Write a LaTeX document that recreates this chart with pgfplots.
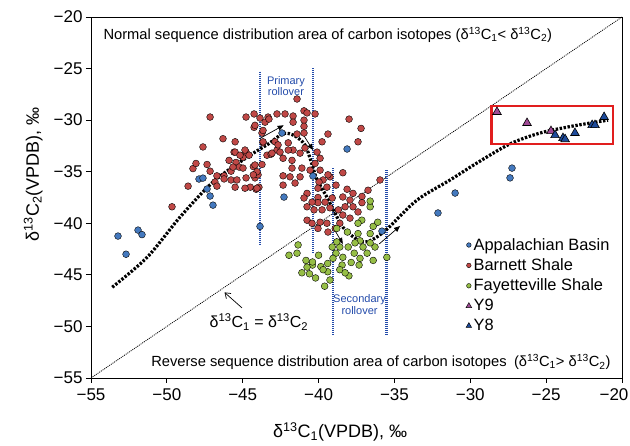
\documentclass[border=0pt]{standalone}
\usepackage{fontspec}
\setmainfont{Liberation Sans}
\usepackage{pgfplots}
\pgfplotsset{compat=1.18}
\usetikzlibrary{arrows.meta}
\definecolor{cblue}{RGB}{68,121,190}
\definecolor{cred}{RGB}{192,72,70}
\definecolor{cgreen}{RGB}{150,190,70}
\definecolor{cpurple}{RGB}{160,75,150}
\definecolor{cnavy}{RGB}{30,75,155}
\definecolor{lblue}{RGB}{35,75,170}
\definecolor{boxred}{RGB}{225,30,30}
\newcommand{\dC}[1]{δ\textsuperscript{13}C\textsubscript{#1}}
\pgfplotstableread{
x y
-49.66 -38.4
-48.6 -36.4
-48.28 -34.7
-48.08 -34.2
-47.35 -34.3
-47.15 -34.95
-47.62 -32.6
-47.15 -29.7
-46.3 -31.8
-46.7 -35.4
-46.83 -36.0
-46.7 -36.4
-46.23 -35.4
-46.23 -35.7
-45.9 -33.9
-45.77 -34.95
-45.77 -35.8
-45.57 -33.1
-45.5 -36.5
-45.44 -34.1
-45.24 -34.55
-44.98 -33.6
-44.78 -29.7
-44.78 -33.1
-44.78 -35.6
-44.58 -33.4
-44.5 -36.5
-44.3 -34.5
-44.25 -29.4
-44.25 -30.7
-44.19 -35.6
-44.12 -36.7
-43.99 -35.3
-43.93 -36.5
-43.73 -34.3
-43.73 -31.25
-43.86 -29.8
-43.53 -30.2
-43.33 -29.7
-43.66 -32.2
-43.4 -33.4
-43.13 -33.3
-42.87 -32.1
-42.74 -29.4
-42.74 -32.9
-41.42 -27.95
-43.27 -29.9
-42.21 -29.4
-41.68 -29.6
-41.68 -30.2
-40.96 -29.1
-40.76 -29.3
-40.23 -29.4
-40.96 -30.0
-40.96 -30.6
-41.42 -31.35
-40.96 -31.25
-39.38 -31.35
-39.77 -32.1
-40.1 -33.1
-39.9 -33.7
-41.22 -33.2
-40.9 -32.7
-42.0 -32.2
-41.68 -32.9
-42.0 -32.9
-42.67 -32.4
-42.54 -33.1
-42.34 -33.7
-43.07 -33.2
-43.66 -31.0
-43.66 -32.1
-44.19 -30.5
-45.5 -32.1
-44.85 -32.9
-45.5 -33.1
-45.18 -33.4
-45.64 -34.55
-44.98 -34.65
-44.19 -34.35
-44.06 -35.0
-44.3 -35.3
-45.38 -35.8
-44.85 -36.6
-44.06 -36.6
-41.75 -33.9
-41.75 -34.65
-41.88 -35.5
-42.34 -35.4
-42.34 -36.3
-41.55 -36.1
-41.22 -35.5
-41.1 -34.65
-40.56 -34.85
-40.23 -34.2
-39.9 -34.85
-39.7 -35.8
-39.25 -35.5
-40.76 -37.1
-40.04 -37.5
-37.99 -29.9
-37.2 -30.8
-37.4 -32.1
-38.4 -35.1
-39.38 -35.3
-39.97 -36.0
-40.04 -36.6
-39.45 -36.5
-38.85 -36.3
-38.12 -36.7
-37.73 -37.1
-37.14 -37.4
-37.93 -37.75
-38.4 -37.45
-39.1 -37.55
-39.57 -37.95
-40.04 -38.0
-40.43 -37.95
-40.96 -37.55
-40.76 -38.4
-40.3 -38.7
-39.77 -38.7
-39.25 -38.5
-38.7 -38.7
-38.25 -38.4
-37.73 -38.4
-37.14 -38.0
-37.4 -38.9
-38.4 -39.2
-37.93 -39.5
-40.76 -39.7
-40.43 -40.0
-39.9 -39.9
-39.45 -40.0
-39.38 -40.85
-38.6 -40.0
-38.9 -40.5
-40.04 -40.5
-35.95 -35.8
-36.74 -36.8
}\barnett
\pgfplotstableread{
x y
-41.35 -42.1
-41.95 -43.1
-41.42 -42.9
-40.83 -43.6
-41.1 -44.8
-40.6 -44.9
-40.2 -45.3
-39.6 -46.1
-40.4 -44.05
-40.0 -43.1
-39.85 -44.2
-39.4 -43.9
-39.4 -44.7
-38.85 -42.9
-38.45 -44.05
-38.4 -43.3
-38.6 -44.5
-38.05 -42.3
-37.85 -43.8
-37.65 -42.9
-37.4 -41.0
-37.27 -43.4
-37.33 -44.05
-38.0 -45.1
-37.07 -42.3
-36.8 -42.9
-36.6 -41.0
-36.4 -40.3
-36.4 -43.6
-36.28 -42.3
-36.1 -39.9
-36.6 -38.4
-38.6 -42.3
-38.8 -41.8
-38.1 -40.85
-37.27 -41.7
-37.6 -41.9
-35.5 -43.3
-39.25 -45.5
-39.7 -44.5
-40.76 -44.25
-40.4 -43.75
-39.1 -42.3
-39.05 -43.4
-38.25 -44.8
-38.8 -40.5
-37.15 -39.7
-36.6 -41.9
-37.4 -40.0
-36.6 -37.85
}\fayette
\pgfplotstableread{
x y
-53.22 -41.24
-52.69 -43.0
-51.9 -40.66
-51.64 -41.1
-47.88 -35.71
-47.62 -35.62
-47.35 -36.68
-47.15 -37.36
-46.96 -38.24
-43.86 -40.3
-42.41 -31.25
-38.12 -32.8
-40.37 -35.42
-42.28 -37.46
-35.82 -40.76
-32.13 -39.0
-31.0 -37.07
-27.38 -35.6
-27.25 -34.65
}\appal
\pgfplotstableread{
x y
-28.24 -29.21
-26.26 -30.28
-24.68 -31.06
}\yix
\pgfplotstableread{
x y
-24.41 -31.45
-23.89 -31.74
-23.75 -31.85
-23.1 -31.25
-21.97 -30.48
-21.78 -30.48
-21.18 -29.7
}\yeight
\begin{document}
\begin{tikzpicture}
\useasboundingbox (0,0) rectangle (630pt,446pt);
\begin{axis}[
  at={(91pt,68pt)}, anchor=south west,
  scale only axis, width=531pt, height=361pt,
  xmin=-55, xmax=-20, ymin=-55, ymax=-20,
  xtick={-55,-50,-45,-40,-35,-30,-25,-20},
  ytick={-55,-50,-45,-40,-35,-30,-25,-20},
  xticklabels={−55,−50,−45,−40,−35,−30,−25,\hspace*{-16pt}−20},
  yticklabels={−55,−50,−45,−40,−35,−30,−25,−20},
  tick align=outside, xtick pos=bottom, ytick pos=left,
  major tick length=5pt,
  axis line style={line width=0.9pt},
  every tick/.style={black, line width=0.9pt},
  ticklabel style={font=\fontsize{17}{17}\selectfont},
  xticklabel style={yshift=-2pt},
  clip=false,
  xlabel={\dC{1}(VPDB), ‰},
  ylabel={\dC{2}(VPDB), ‰},
  label style={font=\fontsize{18}{18}\selectfont},
  xlabel style={at={(axis description cs:0.469,-0.15)}, anchor=center},
  ylabel style={at={(axis description cs:-0.109,0.565)}, anchor=center, rotate=0},
  legend style={at={(0.706,0.393)}, anchor=north west, draw=none, fill=none,
    font=\fontsize{16.4}{16.4}\selectfont, row sep=3pt, inner sep=0pt,
    /tikz/every even column/.append style={column sep=1pt}},
  legend cell align=left,
  legend image code/.code={\draw[#1] plot coordinates {(0pt,0pt)};},
]
% diagonal 1:1 line
\addplot[forget plot, black, line width=0.8pt, dash pattern=on 1pt off 1pt] coordinates {(-55,-55) (-20,-20)};
\addplot[forget plot, only marks, mark=*, mark size=3.4pt, mark options={draw=none, fill=cred}] table {\barnett};
\addplot[forget plot, only marks, mark=*, mark size=3.4pt, mark options={draw=none, fill=cgreen}] table {\fayette};
\addplot[forget plot, only marks, mark=*, mark size=3.4pt, mark options={draw=none, fill=cblue}] table {\appal};
% rollover lines
\addplot[forget plot, lblue, line width=2.8pt, dash pattern=on 1.2pt off 0.8pt] coordinates {(-43.86,-25.3) (-43.86,-42.1)};
\addplot[forget plot, lblue, line width=2.8pt, dash pattern=on 1.2pt off 0.8pt] coordinates {(-40.37,-24.95) (-40.37,-42.8)};
\addplot[forget plot, lblue, line width=2.8pt, dash pattern=on 1.2pt off 0.8pt] coordinates {(-39.05,-34.65) (-39.05,-50.85)};
\addplot[forget plot, lblue, line width=2.8pt, dash pattern=on 1.2pt off 0.8pt] coordinates {(-35.5,-34.85) (-35.5,-50.85)};
% trend curve
\addplot[forget plot, black, smooth, line width=3.2pt, dash pattern=on 2.4pt off 1.6pt] coordinates {
(-53.6,-46.2) (-51.3,-43.3) (-49.13,-39.4) (-46.96,-36.0) (-44.72,-33.6) (-43.3,-32.3) (-42.34,-31.3) (-41.6,-31.5) (-40.9,-32.4) (-40.45,-34.2) (-40.1,-35.8) (-39.45,-37.46) (-38.92,-39.0) (-38.4,-40.37) (-37.6,-41.44) (-36.94,-41.82) (-36.28,-41.44) (-35.42,-40.47) (-33.51,-37.75) (-31.33,-35.8) (-29.5,-34.1) (-27.38,-32.3) (-25.4,-31.25) (-23.23,-30.57) (-20.92,-30.0)};
\addplot[forget plot, only marks, mark=triangle*, mark size=5pt, mark options={draw=black, fill=cpurple, line width=0.6pt}] table {\yix};
\addplot[forget plot, only marks, mark=triangle*, mark size=5pt, mark options={draw=black, fill=cnavy, line width=0.6pt}] table {\yeight};
% legend
\addlegendimage{only marks, mark=*, mark size=2.3pt, mark options={draw=none, fill=cblue}}
\addlegendentry{Appalachian Basin}
\addlegendimage{only marks, mark=*, mark size=2.3pt, mark options={draw=none, fill=cred}}
\addlegendentry{Barnett Shale}
\addlegendimage{only marks, mark=*, mark size=2.3pt, mark options={draw=none, fill=cgreen}}
\addlegendentry{Fayetteville Shale}
\addlegendimage{only marks, mark=triangle*, mark size=3.2pt, mark options={draw=black, fill=cpurple, line width=0.5pt}}
\addlegendentry{Y9}
\addlegendimage{only marks, mark=triangle*, mark size=3.2pt, mark options={draw=black, fill=cnavy, line width=0.5pt}}
\addlegendentry{Y8}
% annotations
\draw[boxred, line width=2.2pt] (axis cs:-28.6,-28.6) rectangle (axis cs:-20.6,-32.3);
\draw[-{Triangle[length=6pt,width=5pt]}, line width=0.7pt] (axis cs:-43.9,-31.8) -- (axis cs:-42.3,-30.5);
\draw[-{Triangle[length=6pt,width=5pt]}, line width=0.7pt] (axis cs:-41.1,-31.2) -- (axis cs:-40.37,-32.9);
\draw[-{Triangle[length=6pt,width=5pt]}, line width=0.7pt] (axis cs:-39.0,-40.5) -- (axis cs:-38.4,-42.0);
\draw[-{Triangle[length=6pt,width=5pt]}, line width=0.7pt] (axis cs:-36.0,-42.0) -- (axis cs:-34.63,-40.27);
\draw[-{Straight Barb[length=5pt,width=7pt]}, line width=0.7pt] (axis cs:-45.05,-48.2) -- (axis cs:-46.2,-46.7);
\node[lblue, align=center, font=\fontsize{11}{11.5}\selectfont] at (axis cs:-42.15,-26.7) {Primary\\rollover};
\node[lblue, align=center, font=\fontsize{11}{11.5}\selectfont] at (axis cs:-37.3,-47.9) {Secondary\\rollover};
\node[font=\fontsize{16}{16}\selectfont] at (axis cs:-43.93,-49.58) {\dC{1} = \dC{2}};
\node[anchor=west, font=\fontsize{14.7}{15}\selectfont] at (rel axis cs:0.017,0.95) {Normal sequence distribution area of carbon isotopes (\dC{1}< \dC{2})};
\node[anchor=east, font=\fontsize{14.7}{15}\selectfont] at (rel axis cs:0.985,0.044) {Reverse sequence distribution area of carbon isotopes\enspace(\dC{1}> \dC{2})};
\end{axis}
\end{tikzpicture}
\end{document}
